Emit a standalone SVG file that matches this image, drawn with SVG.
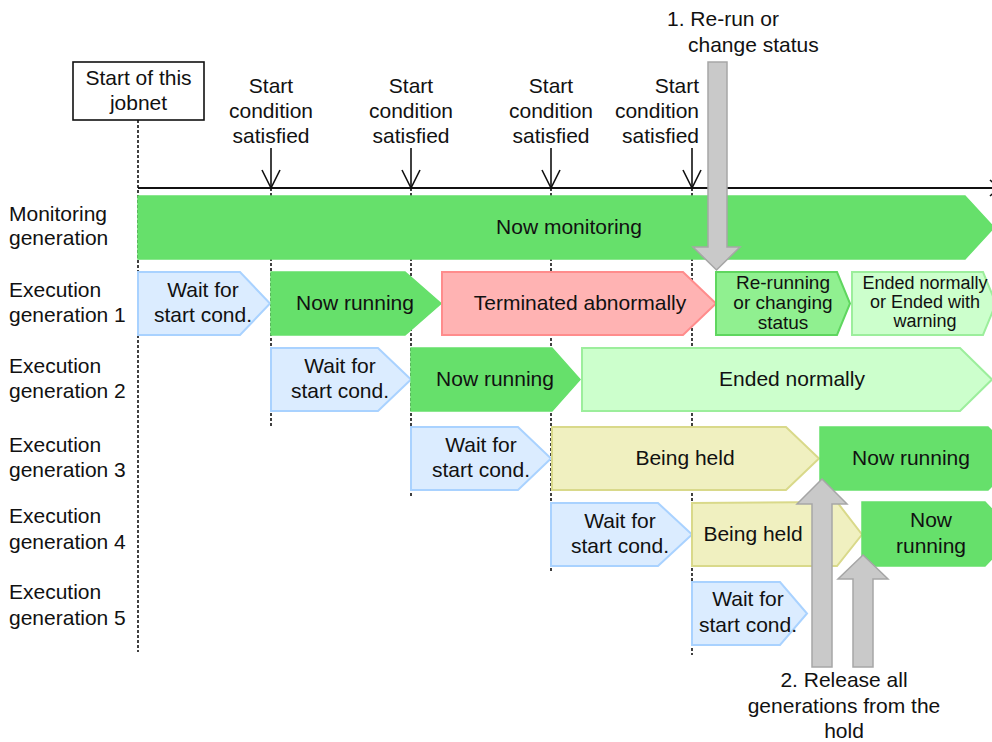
<svg xmlns="http://www.w3.org/2000/svg" width="992" height="742" viewBox="0 0 992 742">
<style>
text{font-family:"Liberation Sans",Arial,sans-serif;font-size:21px;fill:#111;}
.c{text-anchor:middle;}
.r{text-anchor:end;}
.s19{font-size:19px;}
.s18{font-size:18px;}
.dash{stroke:#111;stroke-width:1.6;stroke-dasharray:3 2;fill:none;}
.tick{stroke:#111;stroke-width:1.6;fill:none;}
.run{fill:#66e06b;stroke:#66e06b;stroke-width:1.5;}
.wait{fill:#dbecff;stroke:#a9d2ff;stroke-width:2;}
.term{fill:#ffb3b3;stroke:#ff8c8c;stroke-width:2;}
.rerun{fill:#90f090;stroke:#5fd65f;stroke-width:2;}
.ended{fill:#ccffcc;stroke:#9cee9c;stroke-width:2;}
.held{fill:#f0f0c0;stroke:#d9d98a;stroke-width:2;}
.gray{fill:#c9c9c9;stroke:#a6a6a6;stroke-width:1.5;}
</style>
<rect width="992" height="742" fill="#fff"/>

<g id="guides">
<line class="dash" x1="138" y1="120" x2="138" y2="652"/>
<line class="dash" x1="271" y1="188" x2="271" y2="428"/>
<line class="dash" x1="411" y1="188" x2="411" y2="496"/>
<line class="dash" x1="551" y1="188" x2="551" y2="573"/>
<line class="dash" x1="692" y1="188" x2="692" y2="655"/>
</g>

<g id="timeline">
<line x1="138" y1="188" x2="992" y2="188" stroke="#111" stroke-width="2"/>
<polyline class="tick" points="990,180 999,188 990,196"/>
</g>

<g id="start-jobnet">
<rect x="73" y="62" width="131" height="58" fill="#fff" stroke="#111" stroke-width="1.6"/>
<text class="c" x="138.5" y="85">Start of this</text>
<text class="c" x="138.5" y="110">jobnet</text>
</g>

<g id="cond1">
<polyline class="tick" points="271,148 271,188"/><polyline class="tick" points="262,170 271,188 280,170"/>
<text class="c" x="271" y="93">Start</text><text class="c" x="271" y="118">condition</text><text class="c" x="271" y="143">satisfied</text>
</g>
<g id="cond2">
<polyline class="tick" points="411,148 411,188"/><polyline class="tick" points="402,170 411,188 420,170"/>
<text class="c" x="411" y="93">Start</text><text class="c" x="411" y="118">condition</text><text class="c" x="411" y="143">satisfied</text>
</g>
<g id="cond3">
<polyline class="tick" points="551,148 551,188"/><polyline class="tick" points="542,170 551,188 560,170"/>
<text class="c" x="551" y="93">Start</text><text class="c" x="551" y="118">condition</text><text class="c" x="551" y="143">satisfied</text>
</g>
<g id="cond4">
<polyline class="tick" points="692,148 692,188"/><polyline class="tick" points="683,170 692,188 701,170"/>
<text class="r" x="699" y="93">Start</text><text class="r" x="699" y="118">condition</text><text class="r" x="699" y="143">satisfied</text>
</g>

<g id="row-labels">
<text x="9" y="221">Monitoring</text><text x="9" y="245">generation</text>
<text x="9" y="297">Execution</text><text x="9" y="322">generation 1</text>
<text x="9" y="373">Execution</text><text x="9" y="398">generation 2</text>
<text x="9" y="452">Execution</text><text x="9" y="477">generation 3</text>
<text x="9" y="523">Execution</text><text x="9" y="549">generation 4</text>
<text x="9" y="599">Execution</text><text x="9" y="625">generation 5</text>
</g>

<g id="monitoring">
<polygon class="run" points="138,196 965,196 994,227.5 965,259 138,259"/>
<text class="c" x="569" y="234">Now monitoring</text>
</g>

<g id="g1-wait">
<polygon class="wait" points="138,272 240,272 270,303.5 240,335 138,335"/>
<text class="c" x="203" y="297">Wait for</text><text class="c" x="203" y="322">start cond.</text>
</g>
<g id="g1-run">
<polygon class="run" points="271,272 405,272 441,303.5 405,335 271,335"/>
<text class="c" x="355" y="310">Now running</text>
</g>
<g id="g1-term">
<polygon class="term" points="442,272 683,272 716,303.5 683,335 442,335"/>
<text class="c" x="580" y="310">Terminated abnormally</text>
</g>
<g id="g1-rerun">
<polygon class="rerun" points="716,272 837,272 850,303.5 837,335 716,335"/>
<text class="c s19" x="783" y="289">Re-running</text>
<text class="c s19" x="783" y="309">or changing</text>
<text class="c s19" x="783" y="329">status</text>
</g>
<g id="g1-ended">
<polygon class="ended" points="852,272 983,272 996,303.5 983,335 852,335"/>
<text class="c s18" x="925" y="289">Ended normally</text>
<text class="c s18" x="925" y="308">or Ended with</text>
<text class="c s18" x="925" y="327">warning</text>
</g>

<g id="g2-wait">
<polygon class="wait" points="271,348 378,348 411,379.5 378,411 271,411"/>
<text class="c" x="340" y="373">Wait for</text><text class="c" x="340" y="398">start cond.</text>
</g>
<g id="g2-run">
<polygon class="run" points="411,348 552,348 580,379.5 552,411 411,411"/>
<text class="c" x="495" y="386">Now running</text>
</g>
<g id="g2-ended">
<polygon class="ended" points="582,348 960,348 992,379.5 960,411 582,411"/>
<text class="c" x="792" y="386">Ended normally</text>
</g>

<g id="g3-wait">
<polygon class="wait" points="411,427 518,427 551,458.5 518,490 411,490"/>
<text class="c" x="481" y="452">Wait for</text><text class="c" x="481" y="477">start cond.</text>
</g>
<g id="g3-held">
<polygon class="held" points="552,427 786,427 819,458.5 786,490 552,490"/>
<text class="c" x="685" y="465">Being held</text>
</g>
<g id="g3-run">
<polygon class="run" points="820,427 988,427 1019,458.5 988,490 820,490"/>
<text class="c" x="911" y="465">Now running</text>
</g>

<g id="g4-wait">
<polygon class="wait" points="551,503 658,503 692,534.5 658,566 551,566"/>
<text class="c" x="620" y="528">Wait for</text><text class="c" x="620" y="553">start cond.</text>
</g>
<g id="g4-held">
<polygon class="held" points="692,503 837,502 862,534.5 837,566 692,566"/>
<text class="c" x="753" y="541">Being held</text>
</g>
<g id="g4-run">
<polygon class="run" points="862,502 985,502 1016,534 985,566 862,566"/>
<text class="c" x="931" y="527">Now</text><text class="c" x="931" y="553">running</text>
</g>

<g id="g5-wait">
<polygon class="wait" points="692,582 780,582 807,613.5 780,645 692,645"/>
<text class="c" x="748" y="606">Wait for</text><text class="c" x="748" y="632">start cond.</text>
</g>

<g id="arrow-rerun">
<polygon class="gray" points="708,62 727,62 727,247 740,247 716.5,270 693,247 708,247"/>
<text x="667" y="26">1. Re-run or</text>
<text x="688" y="52">change status</text>
</g>

<g id="arrow-release">
<polygon class="gray" points="812,667 832,667 832,504 847,504 822,479 797,504 812,504"/>
<polygon class="gray" points="853,667 873,667 873,579 888,579 863,555 838,579 853,579"/>
<text class="c" x="844" y="687">2. Release all</text>
<text class="c" x="844" y="713">generations from the</text>
<text class="c" x="844" y="738">hold</text>
</g>
</svg>
